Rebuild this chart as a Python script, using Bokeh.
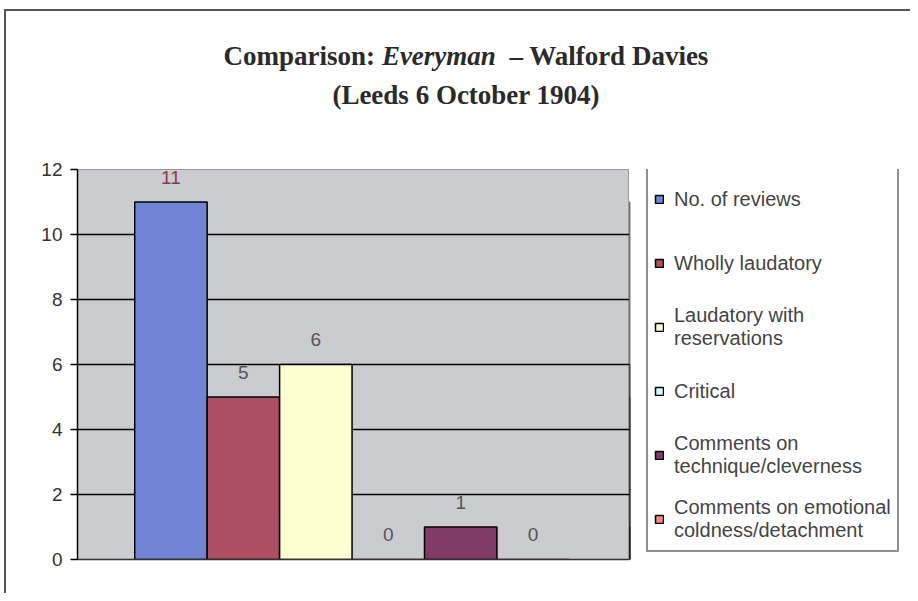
from bokeh.plotting import figure
from bokeh.layouts import column, row
from bokeh.models import ColumnDataSource, Legend, LegendItem, FixedTicker, Range1d, Div
from bokeh.embed import file_html
from bokeh.resources import INLINE
from bokeh.core.properties import value

# ---- data ----
series = ["No. of reviews", "Wholly laudatory", "Laudatory with\nreservations", "Critical",
          "Comments on\ntechnique/cleverness", "Comments on emotional\ncoldness/detachment"]
values = [11, 5, 6, 0, 1, 0]
bar_colors = ["#7083d4", "#ad4f63", "#ffffd2", "#cdfbfd", "#803c66", "#f4877e"]
value_label_colors = ["#8b3a4a", "#555555", "#555555", "#555555", "#555555", "#555555"]
y_ticks = [0, 2, 4, 6, 8, 10, 12]
grid_ticks = [2, 4, 6, 8, 10]
title_a = "Comparison:"
title_b = "Everyman"
title_c = "\u2013 Walford Davies"
title_line2 = "(Leeds 6 October 1904)"

W = 904          # inner width (inside outer border)
TH = 109         # title strip height
PH = 473         # chart row height
LEFT = 71
FRAME_W = 552
FRAME_H = 390
TOP = 49
BOTTOM = PH - TOP - FRAME_H

# ---- title ----
title_html = (
    '<div style="font-family:\'Liberation Serif\',\'Times New Roman\',serif; font-weight:bold; '
    'font-size:27px; color:#2a2a2a; text-align:center; line-height:39px; '
    'padding-top:26px; width:904px; position:relative; left:8px;">'
    f'{title_a} <i>{title_b}</i>&nbsp; {title_c}<br>{title_line2}</div>'
)
title_div = Div(text=title_html, width=W, height=TH, margin=0)

# ---- chart ----
positions = list(range(len(values)))
src = ColumnDataSource(dict(x=positions, top=values, color=bar_colors,
                            lbl=[str(v) for v in values], lcolor=value_label_colors))

p = figure(width=LEFT + FRAME_W, height=PH, output_backend="svg", toolbar_location=None,
           x_range=Range1d(-1.29, 6.33), y_range=Range1d(0, 12),
           min_border_left=LEFT, min_border_right=0,
           min_border_top=TOP, min_border_bottom=BOTTOM)
p.background_fill_color = "#cbcccf"
p.border_fill_color = "white"
p.outline_line_color = "#9a9a9a"

r = p.vbar(x="x", top="top", bottom=0, width=1.0, source=src, fill_color="color",
           line_color="black", line_width=1.5)

p.text(x="x", y="top", text="lbl", source=src, text_align="center", text_baseline="middle",
       y_offset=-25, text_font=value("Liberation Sans"), text_font_size="19px",
       text_color="lcolor")

p.yaxis.ticker = FixedTicker(ticks=y_ticks)
p.yaxis.axis_line_color = "black"
p.yaxis.axis_line_width = 1.5
p.yaxis.major_tick_out = 7
p.yaxis.major_tick_in = 0
p.yaxis.major_tick_line_width = 1.5
p.yaxis.minor_tick_line_color = None
p.yaxis.major_label_text_font = "Liberation Sans"
p.yaxis.major_label_text_font_size = "19px"
p.yaxis.major_label_text_color = "#333333"
p.yaxis.major_label_standoff = 8

p.xaxis.ticker = FixedTicker(ticks=[])
p.xaxis.axis_line_color = "#333333"
p.xaxis.axis_line_width = 1.5
p.xaxis.major_tick_line_color = None
p.xaxis.minor_tick_line_color = None

p.xgrid.grid_line_color = None
p.ygrid.ticker = FixedTicker(ticks=grid_ticks)
p.ygrid.grid_line_color = "black"
p.ygrid.grid_line_width = 1.5

# ---- legend panel (separate figure; bars placed outside its visible range) ----
q = figure(width=W - LEFT - FRAME_W, height=PH, output_backend="svg", toolbar_location=None,
           x_range=Range1d(100, 101), y_range=Range1d(0, 12),
           min_border_left=0, min_border_right=0, min_border_top=TOP, min_border_bottom=BOTTOM)
q.axis.visible = False
q.grid.visible = False
q.outline_line_color = None
q.background_fill_color = "white"
q.border_fill_color = "white"
rq = q.vbar(x="x", top="top", bottom=0, width=1.0, source=src, fill_color="color",
            line_color="black", line_width=1.5)

items = [LegendItem(label=s, renderers=[rq], index=i) for i, s in enumerate(series)]
legend = Legend(items=items, location=(17, 7), orientation="vertical")
legend.border_line_color = "#222222"
legend.border_line_width = 2
legend.background_fill_color = "white"
legend.background_fill_alpha = 1.0
legend.padding = 6
legend.margin = 0
legend.glyph_width = 10
legend.glyph_height = 10
legend.label_standoff = 10
legend.label_height = 50
legend.spacing = 14
legend.label_text_font = "Liberation Sans"
legend.label_text_font_size = "20px"
legend.label_text_color = "#444444"
q.add_layout(legend, "center")

layout = column(title_div, row(p, q, spacing=0), spacing=0,
                styles={"border-top": "2px solid #555555", "border-left": "2px solid #555555",
                        "margin-top": "9px", "margin-left": "4px"})

open("out.html", "w").write(file_html(layout, INLINE))
